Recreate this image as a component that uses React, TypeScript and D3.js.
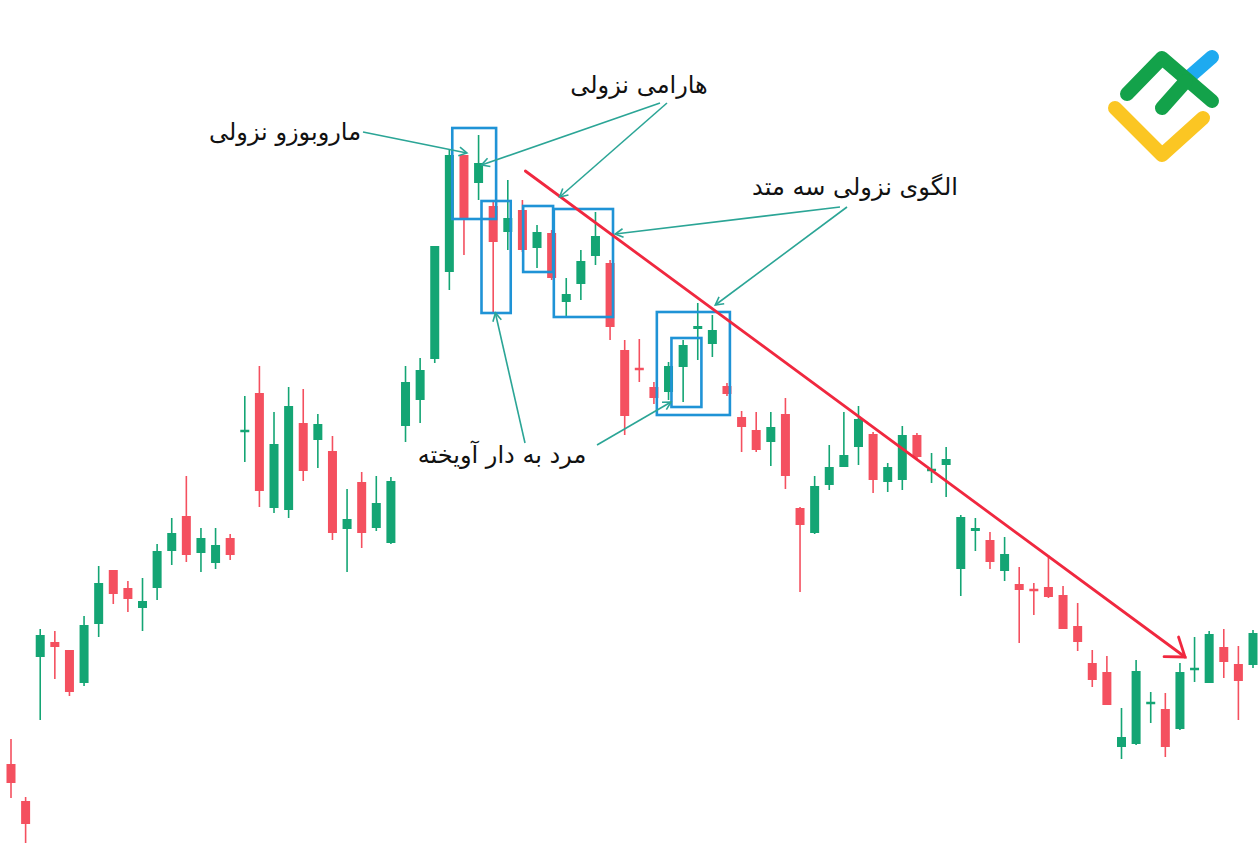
import React from "react";
import * as d3 from "d3";

const W = 1258;
const H = 859;

// OHLC values (86 sessions)
const opens = [
  13.6, 9.9, 24.3, 25.8, 25.0, 21.7, 27.6, 33.0, 31.2, 29.2,
  31.2, 34.9, 38.4, 34.7, 33.7, 36.2, 46.8, 50.7, 39.2, 39.0,
  47.7, 46.0, 44.9, 37.1, 41.8, 37.2, 35.7, 47.4, 50.0, 54.1,
  62.8, 74.5, 71.7, 69.4, 66.8, 69.0, 65.2, 66.7, 59.8, 61.6,
  64.4, 63.7, 55.0, 53.2, 51.3, 50.8, 53.3, 57.1, 55.6, 51.4,
  48.3, 47.0, 45.8, 48.6, 39.2, 36.7, 41.5, 43.3, 45.3, 46.6,
  41.8, 42.0, 46.5, 42.9, 43.5, 33.1, 36.9, 36.0, 32.9, 31.6,
  31.1, 31.3, 30.5, 27.4, 23.7, 22.8, 15.3, 15.6, 19.6, 19.1,
  17.1, 23.0, 21.7, 25.3, 23.6, 23.5,
];
const closes = [
  11.7, 7.6, 26.5, 25.3, 20.8, 27.5, 31.7, 30.6, 30.1, 29.9,
  34.9, 36.7, 34.5, 36.2, 35.5, 34.5, 47.0, 40.9, 45.6, 49.4,
  42.9, 47.6, 36.7, 38.1, 36.7, 39.7, 41.9, 51.8, 53.0, 65.4,
  74.5, 68.2, 73.7, 65.8, 68.2, 65.0, 66.8, 62.2, 60.6, 63.9,
  66.4, 57.3, 48.4, 53.0, 50.2, 53.4, 55.5, 57.4, 57.0, 50.6,
  47.3, 45.0, 47.3, 42.4, 37.5, 41.4, 43.3, 44.5, 48.1, 42.0,
  43.3, 46.5, 44.3, 43.1, 44.1, 38.3, 37.2, 33.8, 34.6, 31.0,
  30.9, 30.3, 27.1, 25.8, 22.0, 19.5, 16.3, 22.9, 19.8, 15.3,
  22.8, 23.2, 26.6, 23.8, 21.9, 26.7,
];
const highs = [
  16.1, 10.3, 27.1, 26.9, 25.0, 28.4, 33.4, 33.0, 31.9, 32.2,
  35.6, 38.2, 42.4, 37.2, 37.2, 36.6, 50.4, 53.4, 48.8, 51.3,
  51.1, 48.6, 46.4, 41.1, 42.8, 42.4, 42.3, 53.4, 54.2, 65.4,
  75.0, 74.5, 76.5, 69.8, 72.0, 70.0, 67.5, 67.0, 62.2, 65.0,
  68.8, 64.0, 56.0, 56.1, 51.8, 53.8, 56.0, 59.7, 58.5, 51.7,
  48.9, 48.8, 48.8, 50.2, 39.3, 42.4, 45.5, 48.8, 49.4, 46.8,
  43.7, 47.4, 46.7, 44.7, 45.3, 38.5, 38.2, 36.8, 36.3, 33.3,
  31.7, 34.5, 31.4, 29.7, 25.0, 24.4, 19.2, 24.0, 20.8, 20.7,
  23.7, 26.3, 26.9, 27.1, 25.4, 27.0,
];
const lows = [
  10.2, 5.7, 18.0, 22.1, 20.4, 21.4, 26.3, 29.6, 28.8, 26.9,
  30.0, 33.5, 33.8, 32.8, 33.1, 34.0, 43.8, 39.3, 38.7, 38.2,
  41.9, 43.2, 36.0, 32.8, 35.2, 36.9, 35.6, 45.8, 47.7, 53.7,
  61.0, 64.5, 70.0, 58.7, 65.0, 64.8, 63.2, 62.0, 58.3, 60.0,
  63.5, 56.0, 46.5, 51.8, 49.6, 50.0, 49.8, 54.0, 54.3, 50.4,
  44.8, 44.8, 43.4, 41.1, 30.8, 36.6, 41.0, 43.3, 43.5, 40.7,
  40.8, 41.0, 44.0, 41.7, 40.3, 30.4, 34.9, 33.1, 31.9, 25.7,
  28.5, 30.2, 27.1, 24.9, 21.3, 19.5, 14.1, 15.5, 17.7, 14.3,
  17.0, 21.8, 21.7, 22.2, 18.0, 23.2,
];

// Pattern boxes: [fromIndex, toIndex, topPrice, bottomPrice]
const boxes: [number, number, number, number][] = [
  [30.2, 33.2, 77.2, 68.1],
  [32.2, 34.2, 69.9, 58.7],
  [35.05, 37.1, 69.4, 62.8],
  [37.15, 41.2, 69.1, 58.3],
  [44.2, 49.2, 58.8, 48.5],
  [45.2, 47.25, 56.2, 49.3],
];

// Trend arrow: [index, price] start and end
const trendStart: [number, number] = [35.2, 72.9];
const trendEnd: [number, number] = [80.35, 24.3];

// Annotation labels
const labels = [
  { text: "ماروبوزو نزولی", x: 285, y: 140 },
  { text: "هارامی نزولی", x: 639, y: 93 },
  { text: "الگوی نزولی سه متد", x: 855, y: 195 },
  { text: "مرد به دار آویخته", x: 502, y: 463 },
];

// Pointer arrows: [fromX, fromY] px -> [index, price] target
const pointers: { from: [number, number]; to: [number, number] }[] = [
  { from: [363, 132], to: [31.2, 74.7] },
  { from: [660, 103], to: [32.2, 73.5] },
  { from: [667, 103], to: [37.55, 70.3] },
  { from: [840, 207], to: [41.35, 66.6] },
  { from: [847, 207], to: [48.2, 59.5] },
  { from: [525, 443], to: [33.15, 58.7] },
  { from: [597, 445], to: [45.17, 49.8] },
];

const GREEN = "#14a574";
const RED = "#f4505f";
const BLUE = "#1f93d6";
const TEAL = "#2ba596";
const ARROW_RED = "#f0283f";

export default function App() {
  const x = d3.scaleLinear().domain([0, 85]).range([11, 1253]);
  const y = d3.scaleLinear().domain([0, 90]).range([900, 0]);
  const bodyW = 9;

  const arrowHead = (x1: number, y1: number, x2: number, y2: number, len: number, ang: number) => {
    const a = Math.atan2(y1 - y2, x1 - x2);
    const p1: [number, number] = [x2 + len * Math.cos(a + ang), y2 + len * Math.sin(a + ang)];
    const p2: [number, number] = [x2 + len * Math.cos(a - ang), y2 + len * Math.sin(a - ang)];
    return `M${p1[0]},${p1[1]}L${x2},${y2}L${p2[0]},${p2[1]}`;
  };

  const tx1 = x(trendStart[0]), ty1 = y(trendStart[1]);
  const tx2 = x(trendEnd[0]), ty2 = y(trendEnd[1]);

  return (
    <svg
      width={W}
      height={H}
      style={{ position: "fixed", left: 0, top: 0, background: "#ffffff" }}
    >
      <rect x={0} y={0} width={W} height={H} fill="#ffffff" />
      <g>
        {opens.map((o, i) => {
          const c = closes[i];
          const up = c >= o;
          const col = up ? GREEN : RED;
          const cx = x(i);
          const top = y(Math.max(o, c));
          const bot = y(Math.min(o, c));
          const h = Math.max(bot - top, 2.5);
          const yy = bot - top < 2.5 ? (top + bot) / 2 - 1.25 : top;
          return (
            <g key={i}>
              <line x1={cx} x2={cx} y1={y(highs[i])} y2={y(lows[i])} stroke={col} strokeWidth={1.6} />
              <rect x={cx - bodyW / 2} y={yy} width={bodyW} height={h} fill={col} />
            </g>
          );
        })}
      </g>
      <g fill="none" stroke={BLUE} strokeWidth={2.6}>
        {boxes.map((b, i) => (
          <rect key={i} x={x(b[0])} y={y(b[2])} width={x(b[1]) - x(b[0])} height={y(b[3]) - y(b[2])} />
        ))}
      </g>
      <g fill="none" stroke={ARROW_RED} strokeWidth={2.8} strokeLinecap="round">
        <line x1={tx1} y1={ty1} x2={tx2} y2={ty2} />
        <path d={arrowHead(tx1, ty1, tx2, ty2, 21, 0.62)} strokeLinejoin="miter" />
      </g>
      <g fill="none" stroke={TEAL} strokeWidth={1.6}>
        {pointers.map((p, i) => {
          const X2 = x(p.to[0]);
          const Y2 = y(p.to[1]);
          return (
            <g key={i}>
              <line x1={p.from[0]} y1={p.from[1]} x2={X2} y2={Y2} />
              <path d={arrowHead(p.from[0], p.from[1], X2, Y2, 9, 0.5)} />
            </g>
          );
        })}
      </g>
      <g fontFamily="DejaVu Sans" fontSize={24} fill="#111111" textAnchor="middle">
        {labels.map((l, i) => (
          <text key={i} x={l.x} y={l.y} direction="rtl">
            {l.text}
          </text>
        ))}
      </g>
      <g fill="none" strokeLinecap="round" strokeLinejoin="round" strokeWidth={14}>
        <path d="M1115,108L1162,155L1203,118" stroke="#fbc623" />
        <path d="M1188,78L1212,57" stroke="#1eaaf0" />
        <path d="M1127,94L1162,58L1212,101" stroke="#13a24a" />
        <path d="M1162,108L1186,81" stroke="#13a24a" />
      </g>
    </svg>
  );
}
